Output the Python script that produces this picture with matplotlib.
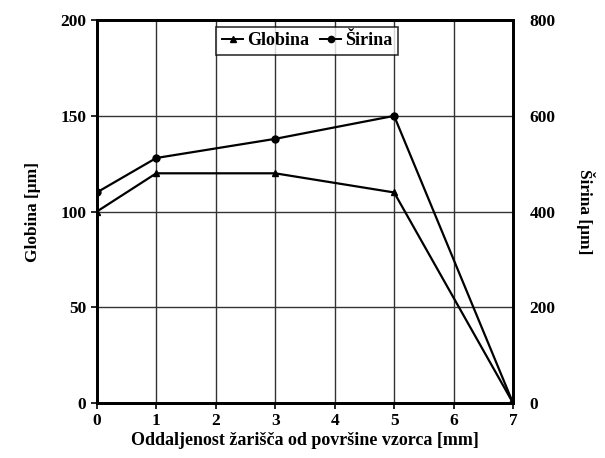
import matplotlib
matplotlib.use("Agg")
import matplotlib.pyplot as plt
from matplotlib.lines import Line2D

x = [0, 1, 3, 5, 7]
globina = [100, 120, 120, 110, 0]
sirina = [440, 512, 552, 600, 0]

plt.rcParams['font.family'] = ['Liberation Serif', 'DejaVu Serif']
plt.rcParams['font.weight'] = 'bold'

fig = plt.figure(figsize=(6.05, 4.58), dpi=100)
ax = fig.add_axes([0.160, 0.120, 0.688, 0.836])
ax2 = ax.twinx()

ax.set_xlim(0, 7)
ax.set_ylim(0, 200)
ax2.set_ylim(0, 800)
ax.set_xticks(range(0, 8))
ax.set_yticks([0, 50, 100, 150, 200])
ax2.set_yticks([0, 200, 400, 600, 800])
ax.grid(True, color='#333333', linewidth=1.0)
ax.set_axisbelow(True)

ax.plot(x, globina, color='black', lw=1.6, marker='^', ms=4, label='Globina', zorder=3)
ax2.plot(x, sirina, color='black', lw=1.6, marker='o', ms=5, label='Širina', zorder=3)

for a in (ax, ax2):
    for s in a.spines.values():
        s.set_linewidth(2.0)
ax.tick_params(axis='both', labelsize=12.5, width=1.2, length=4, direction='out')
ax2.tick_params(axis='y', labelsize=12.5, length=0, pad=12)
for lab in ax.get_xticklabels() + ax.get_yticklabels() + ax2.get_yticklabels():
    lab.set_fontweight('bold')

ax.set_xlabel('Oddaljenost žarišča od površine vzorca [mm]', fontsize=13, fontweight='bold', labelpad=2)
ax.set_ylabel('Globina [μm]', fontsize=12.5, fontweight='bold', labelpad=14)
ax2.set_ylabel('Širina [μm]', fontsize=12.5, fontweight='bold', rotation=270, labelpad=28)

handles = [Line2D([], [], color='black', lw=1.4, marker='^', ms=4),
           Line2D([], [], color='black', lw=1.4, marker='o', ms=4.5)]
leg = ax.legend(handles, ['Globina', 'Širina'], loc='upper center', bbox_to_anchor=(0.505, 1.006),
                ncol=2, frameon=True, fancybox=False, edgecolor='black',
                handlelength=1.2, handletextpad=0.2, columnspacing=0.6, borderpad=0.3,
                prop={'weight': 'bold', 'size': 13})
leg.get_frame().set_linewidth(1.2)

fig.savefig('out.png', dpi=100)
